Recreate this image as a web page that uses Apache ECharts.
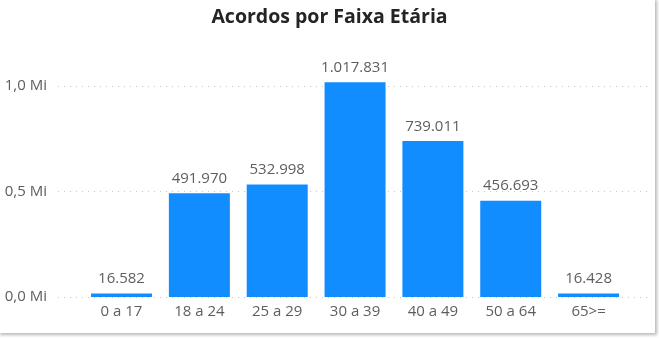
<!DOCTYPE html>
<html>
<head>
<meta charset="utf-8">
<script src="https://cdn.jsdelivr.net/npm/echarts@6/dist/echarts.min.js"></script>
<style>
  html, body { margin: 0; padding: 0; background: #fff; }
  #frame {
    position: absolute; left: 0; top: 0; width: 655px; height: 333px;
    background: #fff; box-shadow: 1px 1px 3px 1px rgba(0,0,0,0.28);
  }
  #chart { position: absolute; left: 0; top: 0; width: 659px; height: 338px; }
</style>
</head>
<body>
<div id="frame"></div>
<div id="chart"></div>
<script>
const categories = ['0 a 17', '18 a 24', '25 a 29', '30 a 39', '40 a 49', '50 a 64', '65>='];
const acordos = [16582, 491970, 532998, 1017831, 739011, 456693, 16428];
const yTicks = [0, 500000, 1000000];

const Y_MAX = 1100000;
const FONT = '"Open Sans", "Noto Sans", sans-serif';

function formatThousands(v) {
  return String(Math.round(v)).replace(/\B(?=(\d{3})+(?!\d))/g, '.');
}
function formatMi(v) {
  return (v / 1e6).toFixed(1).replace('.', ',') + ' Mi';
}

const chart = echarts.init(document.getElementById('chart'), null, { renderer: 'canvas' });
chart.setOption({
  animation: false,
  title: {
    text: 'Acordos por Faixa Etária',
    left: 'center',
    top: 2,
    textStyle: { fontFamily: FONT, fontSize: 19.5, fontWeight: 'bold', color: '#252423' }
  },
  grid: [
    { left: 82.6, right: 31.5, top: 64.9, bottom: 41 },
    { left: 58, right: 12, top: 64.9, bottom: 41 }
  ],
  xAxis: [
    {
      type: 'category', gridIndex: 0, data: categories,
      axisLine: { show: false }, axisTick: { show: false },
      axisLabel: { color: '#605E5C', fontFamily: FONT, fontSize: 15, margin: 7 }
    },
    { type: 'value', gridIndex: 1, show: false }
  ],
  yAxis: [
    {
      type: 'value', gridIndex: 0, min: 0, max: Y_MAX, interval: 500000,
      show: false, splitLine: { show: false }
    },
    {
      type: 'value', gridIndex: 1, min: 0, max: Y_MAX, interval: 500000,
      axisLine: { show: false }, axisTick: { show: false },
      axisLabel: {
        color: '#605E5C', fontFamily: FONT, fontSize: 15, margin: 11,
        showMaxLabel: false,
        formatter: v => yTicks.includes(v) ? formatMi(v) : ''
      },
      splitLine: {
        show: true, showMaxLine: false,
        lineStyle: { color: '#C8C6C4', type: [1, 5], width: 1 }
      }
    }
  ],
  series: [{
    type: 'bar',
    xAxisIndex: 0, yAxisIndex: 0,
    data: acordos,
    barWidth: 61,
    clip: false,
    itemStyle: { color: '#118DFF' },
    label: {
      show: true, position: 'top', distance: 7,
      color: '#605E5C', fontFamily: FONT, fontSize: 15,
      formatter: p => formatThousands(p.value)
    }
  }]
});
</script>
</body>
</html>
